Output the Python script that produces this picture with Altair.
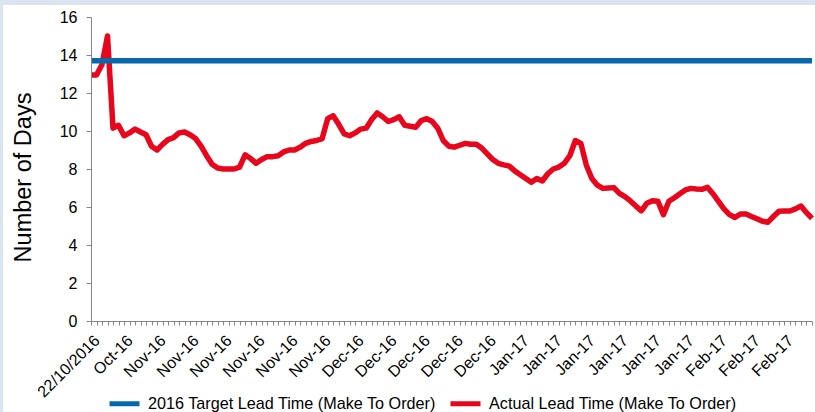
import json
import altair as alt
import pandas as pd

# Axis labels shown on every sixth reporting point
period_labels = [
    "22/10/2016", "Oct-16",
    "Nov-16", "Nov-16", "Nov-16", "Nov-16", "Nov-16", "Nov-16",
    "Dec-16", "Dec-16", "Dec-16", "Dec-16", "Dec-16",
    "Jan-17", "Jan-17", "Jan-17", "Jan-17", "Jan-17", "Jan-17",
    "Feb-17", "Feb-17", "Feb-17",
]
LABEL_STEP = 6

# Actual lead time (days) at each reporting point
actual_days = [
    12.95, 12.95, 13.5, 15.0, 10.15, 10.3, 9.75, 9.9, 10.1, 9.95,
    9.8, 9.2, 9.0, 9.3, 9.55, 9.65, 9.9, 9.95, 9.8, 9.6,
    9.2, 8.7, 8.25, 8.05, 8.0, 8.0, 8.0, 8.1, 8.75, 8.55,
    8.3, 8.5, 8.65, 8.65, 8.7, 8.9, 9.0, 9.0, 9.15, 9.35,
    9.45, 9.5, 9.6, 10.65, 10.8, 10.35, 9.85, 9.75, 9.9, 10.1,
    10.15, 10.6, 10.95, 10.75, 10.5, 10.6, 10.75, 10.3, 10.25, 10.2,
    10.55, 10.65, 10.5, 10.15, 9.5, 9.2, 9.15, 9.25, 9.35, 9.3,
    9.3, 9.1, 8.8, 8.5, 8.3, 8.22, 8.15, 7.9, 7.7, 7.5,
    7.3, 7.5, 7.37, 7.75, 8.0, 8.1, 8.3, 8.7, 9.5, 9.35,
    8.2, 7.5, 7.15, 6.98, 7.0, 7.02, 6.72, 6.55, 6.32, 6.05,
    5.8, 6.2, 6.33, 6.3, 5.6, 6.3, 6.49, 6.7, 6.9, 6.98,
    6.95, 6.93, 7.04, 6.7, 6.3, 5.9, 5.6, 5.45, 5.63, 5.63,
    5.5, 5.38, 5.25, 5.2, 5.5, 5.78, 5.79, 5.79, 5.9, 6.05,
    5.7, 5.4,
]

target_days = 13.7

target_name = "2016 Target Lead Time (Make To Order)"
actual_name = "Actual Lead Time (Make To Order)"
series_names = [target_name, actual_name]
series_colors = ["#0868ac", "#e8061c"]

n_points = len(actual_days)
last_idx = n_points - 1

rows = [{"idx": i, "days": v, "series": actual_name} for i, v in enumerate(actual_days)]
rows += [
    {"idx": 0, "days": target_days, "series": target_name},
    {"idx": last_idx, "days": target_days, "series": target_name},
]
df = pd.DataFrame(rows)

label_expr = (
    f"datum.value % {LABEL_STEP} === 0 ? "
    f"{json.dumps(period_labels)}[datum.value / {LABEL_STEP}] : ''"
)

FONT = "Liberation Sans"
AXIS_GREY = "#868686"

W, H = 721, 304
PAD_L, PAD_T, PAD_R, PAD_B = 91, 17, 3, 91

# White chart panel sitting on the pale blue frame
panel = alt.Chart(pd.DataFrame({"k": [0]})).mark_rect(color="white").encode(
    x=alt.value(3 - PAD_L),
    x2=alt.value(W + PAD_R + 20),
    y=alt.value(5 - PAD_T),
    y2=alt.value(H + PAD_B + 20),
)

lines = alt.Chart(df).mark_line(strokeWidth=5.5, strokeJoin="round").encode(
    x=alt.X(
        "idx:Q",
        scale=alt.Scale(domain=[0, last_idx], nice=False, zero=False),
        axis=alt.Axis(
            values=list(range(n_points)),
            labelExpr=label_expr,
            labelAngle=-45,
            labelAlign="right",
            labelBaseline="top",
            labelPadding=7,
            labelOverlap=False,
            labelFlush=False,
            labelFont=FONT,
            labelFontSize=16,
            labelColor="#000000",
            tickSize=4,
            tickColor=AXIS_GREY,
            domainColor=AXIS_GREY,
            grid=False,
            title=None,
            zindex=1,
        ),
    ),
    y=alt.Y(
        "days:Q",
        scale=alt.Scale(domain=[0, 16], nice=False),
        axis=alt.Axis(
            values=list(range(0, 17, 2)),
            labelFont=FONT,
            labelFontSize=16,
            labelColor="#000000",
            labelPadding=9,
            tickSize=5,
            tickColor=AXIS_GREY,
            domainColor=AXIS_GREY,
            grid=False,
            title="Number of Days",
            titleFont=FONT,
            titleFontSize=23.5,
            titleFontWeight="normal",
            titleColor="#000000",
            titleAngle=-90,
            titleAlign="center",
            titleBaseline="alphabetic",
            titleX=-61,
            titleY=160,
            zindex=1,
        ),
    ),
    color=alt.Color(
        "series:N",
        scale=alt.Scale(domain=series_names, range=series_colors),
        legend=alt.Legend(
            title=None,
            orient="none",
            direction="horizontal",
            legendX=16,
            legendY=369,
            symbolType="stroke",
            symbolSize=900,
            symbolStrokeWidth=5,
            labelFont=FONT,
            labelFontSize=16.2,
            labelColor="#000000",
            labelLimit=0,
            labelOffset=6,
            columnPadding=3,
            padding=0,
        ),
    ),
    detail="series:N",
    order="idx:Q",
)

chart = (
    alt.layer(panel, lines)
    .properties(
        width=W,
        height=H,
        padding={"left": PAD_L, "top": PAD_T, "right": PAD_R, "bottom": PAD_B},
        autosize=alt.AutoSizeParams(type="none"),
        background="#dbe5f1",
    )
    .configure_view(stroke=None)
)

chart.save("out.html", embed_options={"renderer": "svg", "actions": False})
